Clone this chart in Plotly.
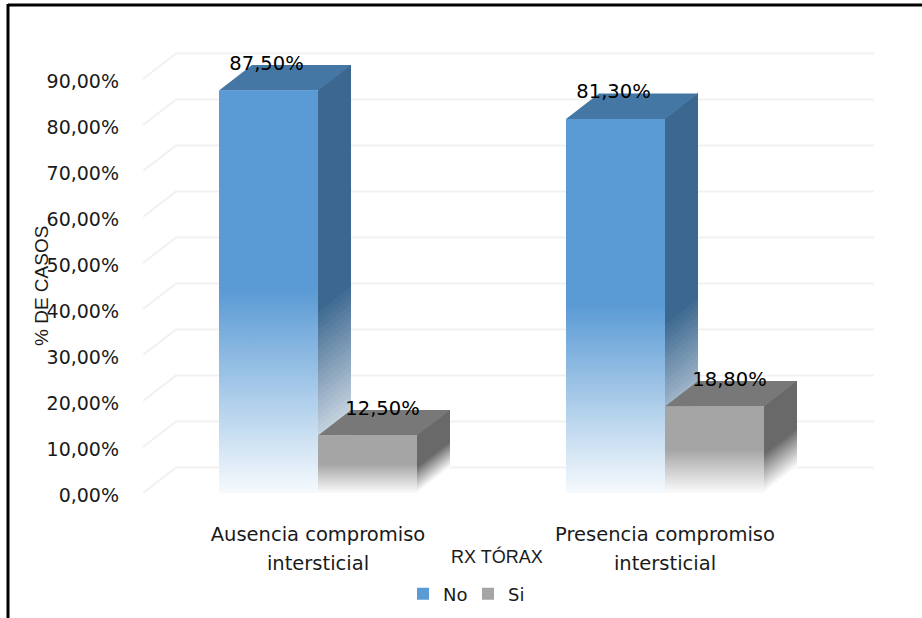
import plotly.graph_objects as go

# ---- data ----
categories = ["Ausencia compromiso", "Presencia compromiso"]
categories_line2 = ["intersticial", "intersticial"]
series_names = ["No", "Si"]
no_values = [87.5, 81.3]
si_values = [12.5, 18.8]
y_ticks = [0, 10, 20, 30, 40, 50, 60, 70, 80, 90]
y_tick_labels = ["0,00%", "10,00%", "20,00%", "30,00%", "40,00%",
                 "50,00%", "60,00%", "70,00%", "80,00%", "90,00%"]
no_labels = ["87,50%", "81,30%"]
si_labels = ["12,50%", "18,80%"]
x_title = "RX TÓRAX"
y_title = "% DE CASOS"

# ---- page geometry (pixels) ----
W, H = 922, 618
PLOT_L, PLOT_R, PLOT_T, PLOT_B = 143, 874, 33, 493
UX = 347.0                     # pixels per category
UY = 4.6                       # pixels per percentage point
CENTER0 = 318                  # pixel of the first category centre
DEPTH_X = 33 / UX              # oblique depth on the x axis
DEPTH_Y = 25.5 / UY            # oblique depth on the y axis
BAR_W = 99 / UX
X0 = (PLOT_L - CENTER0) / UX
X_RIGHT = (PLOT_R - CENTER0) / UX
FONT = "DejaVu Sans"
TEXT = "#1a1a1a"
SIDE_STEPS = 30

STYLES = {
    "No": dict(front=(91, 155, 213), fade="#F6FAFD", side=(60, 104, 144), top="#4577A5",
               label_dx=-2 / UX, labels=no_labels),
    "Si": dict(front=(165, 165, 165), fade="#FBFBFB", side=(105, 105, 105), top="#787878",
               label_dx=15 / UX, labels=si_labels),
}


def rgb(c):
    return f"rgb({c[0]},{c[1]},{c[2]})"


def paper_x(px):
    return (px - PLOT_L) / (PLOT_R - PLOT_L)


def paper_y(py):
    return (PLOT_B - py) / (PLOT_B - PLOT_T)


fig = go.Figure()

# real bars (legend entries and values); the shaded faces below sit over them
for name, vals in zip(series_names, [no_values, si_values]):
    fig.add_trace(go.Bar(x=[0, 1], y=vals, name=name, width=BAR_W - 2 / UX,
                         marker=dict(color=rgb(STYLES[name]["front"]), line_width=0),
                         hoverinfo="skip"))

# floor lines + back wall grid
for t in y_ticks:
    fig.add_trace(go.Scatter(
        x=[X0, X0 + DEPTH_X, X_RIGHT], y=[t, t + DEPTH_Y, t + DEPTH_Y],
        mode="lines", line=dict(color="#F1F1F1", width=2),
        showlegend=False, hoverinfo="skip"))


def poly(xs, ys, **kw):
    fig.add_trace(go.Scatter(x=xs + xs[:1], y=ys + ys[:1], mode="lines",
                             line=dict(width=0), fill="toself",
                             showlegend=False, hoverinfo="skip", **kw))


def side_face(right, v, color):
    """Side face: fades to white along the slant of its bottom edge."""
    fade_top = 0.45 * v
    for k in range(SIDE_STEPS + 1):
        f = k / SIDE_STEPS
        c = tuple(round(255 + (color[j] - 255) * f) for j in range(3))
        t = fade_top * f
        poly([right, right + DEPTH_X, right + DEPTH_X, right],
             [t, t + DEPTH_Y, v + DEPTH_Y, v], fillcolor=rgb(c))


for i in range(len(categories)):
    for s, (name, vals) in enumerate(zip(series_names, [no_values, si_values])):
        st = STYLES[name]
        v = vals[i]
        left = i - BAR_W + s * BAR_W
        right = left + BAR_W
        side_face(right, v, st["side"])
        # top face
        poly([left, left + DEPTH_X, right + DEPTH_X, right],
             [v, v + DEPTH_Y, v + DEPTH_Y, v], fillcolor=st["top"])
        # front face
        poly([left, right, right, left], [0, 0, v, v],
             fillgradient=dict(type="vertical",
                               colorscale=[[0, st["fade"]], [0.5, rgb(st["front"])],
                                           [1, rgb(st["front"])]]))

# value labels
for s, (name, vals) in enumerate(zip(series_names, [no_values, si_values])):
    st = STYLES[name]
    fig.add_trace(go.Scatter(
        x=[i - BAR_W / 2 + s * BAR_W + st["label_dx"] for i in range(len(vals))],
        y=[v + DEPTH_Y for v in vals],
        mode="text", text=st["labels"], textposition="middle center",
        textfont=dict(family=FONT, size=19.5, color="#000000"),
        showlegend=False, hoverinfo="skip"))

tick_text = [f'<span style="font-size:19.5px">{a}</span><br>'
             f'<span style="font-size:19.5px">{b}</span>'
             for a, b in zip(categories, categories_line2)]

fig.update_layout(
    width=W, height=H,
    margin=dict(l=PLOT_L, r=W - PLOT_R, t=PLOT_T, b=H - PLOT_B, autoexpand=False),
    paper_bgcolor="white", plot_bgcolor="rgba(0,0,0,0)",
    barmode="group", bargap=1 - 2 * BAR_W, bargroupgap=0,
    font=dict(family=FONT, color=TEXT),
    xaxis=dict(range=[X0, X_RIGHT], tickmode="array", tickvals=[0, 1],
               ticktext=tick_text, tickfont=dict(size=22.3, color=TEXT),
               showgrid=False, zeroline=False, showline=False, ticks="",
               ticklabelstandoff=25),
    yaxis=dict(range=[0, (PLOT_B - PLOT_T) / UY], tickmode="array", tickvals=y_ticks,
               ticktext=y_tick_labels, tickfont=dict(size=19, color=TEXT),
               showgrid=False, zeroline=False, showline=False, ticks="",
               ticklabelstandoff=23, ticklabelshift=2),
    legend=dict(orientation="h", x=paper_x(403), xanchor="left",
                y=paper_y(594), yanchor="middle",
                font=dict(family="DejaVu Sans", size=18, color=TEXT),
                entrywidth=20, entrywidthmode="pixels",
                bgcolor="rgba(0,0,0,0)", traceorder="normal"),
    annotations=[
        dict(text=x_title, xref="paper", yref="paper", x=paper_x(497), y=paper_y(556),
             xanchor="center", yanchor="middle", showarrow=False,
             font=dict(family="Liberation Sans", size=18, color=TEXT)),
        dict(text=y_title, xref="paper", yref="paper", x=paper_x(41), y=paper_y(286),
             xanchor="center", yanchor="middle", textangle=-90, showarrow=False,
             font=dict(family="Liberation Sans", size=19, color=TEXT)),
    ],
    shapes=[
        dict(type="line", xref="paper", yref="paper", x0=paper_x(8), x1=paper_x(922),
             y0=paper_y(5), y1=paper_y(5), line=dict(color="black", width=3)),
        dict(type="line", xref="paper", yref="paper", x0=paper_x(8), x1=paper_x(8),
             y0=paper_y(4), y1=paper_y(618), line=dict(color="black", width=3)),
    ],
)

fig.write_html("out.html", config={"displayModeBar": False},
               post_script="document.body.style.margin='0';")
